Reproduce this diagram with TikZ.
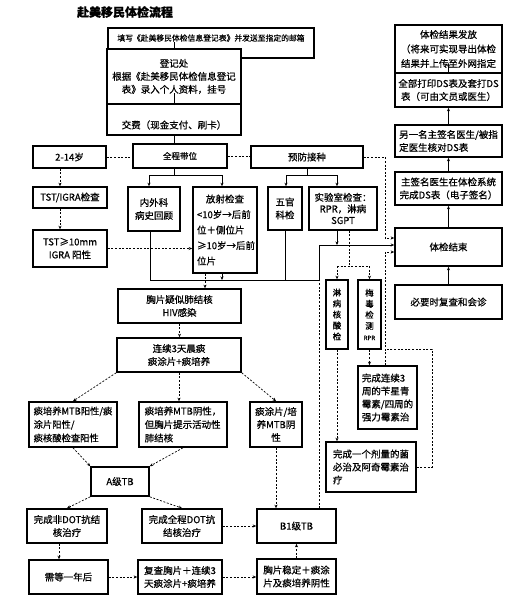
\documentclass[tikz,border=0pt]{standalone}
\usepackage{fontspec}
\setmainfont{Noto Sans CJK SC}[FakeBold=0.6]
\usetikzlibrary{arrows.meta}
\begin{document}
\begin{tikzpicture}[x=1pt,y=-1pt,
  bx/.style={draw,line width=1.6pt,fill=white,inner sep=1pt,align=center,font=\fontsize{9.5}{13}\selectfont},
  txt/.style={inner sep=0pt,align=center,font=\fontsize{9.5}{13}\selectfont},
  ln/.style={line width=0.6pt},
  dl/.style={line width=0.7pt,dash pattern=on 2pt off 1.6pt},
  ar/.style={-{Stealth[length=3.5pt,width=3pt]}}]
\useasboundingbox[fill=white] (0,0) rectangle (515,600);

\node[font=\bfseries\fontsize{12}{14}\selectfont,inner sep=0pt] (title) at (125,12) {赴美移民体检流程};

% top chain
\node[bx,minimum width=206pt,minimum height=30pt] (b1) at (211,43) {};
\node[txt,font=\fontsize{7.8}{10}\selectfont] (b1t) at (211,38) {填写《赴美移民体检信息登记表》并发送至指定的邮箱};
\node[bx,minimum width=134pt,minimum height=55pt] (b2) at (174,76.5) {登记处\\根据《赴美移民体检信息登记\\表》录入个人资料，挂号};
\node[bx,minimum width=134pt,minimum height=31pt] (b3) at (174,119.5) {};
\node[txt] (b3t) at (174,125) {交费（现金支付、刷卡）};
\coordinate (b2o) at (174,93);
\draw[ln] (b1t.south -| b2.north) -- (b2.north);
\draw[ln] (b2o) -- (b3.north);

\node[bx,minimum width=73pt,minimum height=22pt] (b5) at (69.5,157) {2-14岁};
\node[bx,minimum width=94pt,minimum height=24pt,font=\fontsize{8.5}{11}\selectfont] (b4) at (180,156) {全程带位};
\node[bx,minimum width=112pt,minimum height=22pt] (b6) at (307,157) {预防接种};

\node[bx,minimum width=74pt,minimum height=21pt] (b7) at (70,197.5) {TST/IGRA检查};
\node[bx,minimum width=74pt,minimum height=37pt] (b8) at (70,248.5) {TST≥10mm\\IGRA 阳性};
\node[bx,minimum width=52pt,minimum height=44pt] (b9) at (154,209) {内外科\\病史回顾};
\node[bx,minimum width=64pt,minimum height=86pt,align=left,text width=56pt,font=\fontsize{9.5}{15.5}\selectfont] (b10) at (225,230) {\makebox[56pt]{放射检查}\\<10岁→后前\\位＋侧位片\\≥10岁→后前\\位片};
\node[bx,minimum width=34pt,minimum height=43pt] (b11) at (285,208.5) {五官\\科检};
\node[bx,minimum width=68pt,minimum height=43pt,font=\fontsize{9.5}{11.5}\selectfont] (b12) at (343,208.5) {实验室检查：\\RPR，淋病\\SGPT};

% right column
\node[bx,minimum width=107pt,minimum height=48pt,font=\fontsize{9.5}{14.5}\selectfont] (r1) at (448.5,49) {体检结果发放\\（将来可实现导出体检\\结果并上传至外网指定};
\node[bx,minimum width=107pt,minimum height=34pt] (r2) at (448.5,90) {全部打印DS表及套打DS\\表（可由文员或医生）};
\node[bx,minimum width=107pt,minimum height=32pt,align=left] (r3) at (448.5,141) {另一名主签名医生/被指\\定医生核对DS表};
\node[bx,minimum width=107pt,minimum height=33pt] (r4) at (448.5,188.5) {主签名医生在体检系统\\完成DS表（电子签名）};
\node[bx,minimum width=107pt,minimum height=38pt] (r5) at (448.5,247) {体检结束};
\node[bx,minimum width=107pt,minimum height=34pt] (r6) at (448.5,302) {必要时复查和会诊};
\coordinate (r1i) at (448.5,63);
\draw[ln,ar] (r6.north) -- (r5.south);
\draw[ln,ar] (r5.north) -- (r4.south);
\draw[ln,ar] (r4.north) -- (r3.south);
\draw[ln,ar] (r3.north) -- (r2.south);
\draw[ln,ar] (r2.north) -- (r1i);

% middle column
\node[bx,minimum width=123pt,minimum height=34pt] (m1) at (179.5,306) {胸片疑似肺结核\\HIV感染};
\node[bx,minimum width=124pt,minimum height=34pt] (m2) at (179,355) {连续3天晨痰\\痰涂片+痰培养};
\node[bx,minimum width=88pt,minimum height=45pt,align=left,font=\fontsize{9.3}{13.5}\selectfont] (m3) at (73,424.5) {痰培养MTB阳性/痰\\涂片阳性/\\痰核酸检查阳性};
\node[bx,minimum width=88pt,minimum height=45pt,align=left,font=\fontsize{9.5}{13.5}\selectfont] (m4) at (183,424.5) {痰培养MTB阴性，\\但胸片提示活动性\\肺结核};
\node[bx,minimum width=52pt,minimum height=45pt] (m5) at (276,424.5) {痰涂片/培\\养MTB阴\\性};
\node[bx,minimum width=58pt,minimum height=29pt] (m6) at (120,481.5) {A级TB};
\node[bx,minimum width=80pt,minimum height=34pt] (m7) at (67,526) {完成非DOT抗结\\核治疗};
\node[bx,minimum width=80pt,minimum height=34pt] (m8) at (182,526) {完成全程DOT抗\\结核治疗};
\node[bx,minimum width=79pt,minimum height=34pt] (m9) at (296.5,526) {B1级TB};
\node[bx,minimum width=79pt,minimum height=34pt] (m10) at (68.5,577) {需等一年后};
\node[bx,minimum width=84pt,minimum height=34pt] (m11) at (180,577) {复查胸片＋连续3\\天痰涂片+痰培养};
\node[bx,minimum width=79pt,minimum height=35pt] (m12) at (296.5,576.5) {胸片稳定＋痰涂\\片及痰培养阴性};

% syphilis / gonorrhea
\node[bx,minimum width=22pt,minimum height=69pt,inner sep=0pt,font=\fontsize{8.5}{11}\selectfont] (s1) at (337,314.5) {淋\\病\\核\\酸\\检};
\node[bx,minimum width=23pt,minimum height=69pt,inner sep=0pt,font=\fontsize{8.5}{11}\selectfont] (s2) at (369.5,314.5) {梅\\毒\\检\\测\\{\fontsize{6}{8}\selectfont RPR}};
\node[bx,minimum width=59pt,minimum height=63pt,align=left] (s3) at (387.5,397.5) {完成连续3\\周的苄星青\\霉素/四周的\\强力霉素治};
\node[bx,minimum width=90pt,minimum height=50pt,align=left] (s4) at (371,467) {完成一个剂量的菌\\必治及阿奇霉素治\\疗};

% solid connectors, exam split
\coordinate (j1) at (174,175);
\coordinate (j1l) at (149,175);
\coordinate (j1r) at (222,175);
\draw[ln] (b3.south) -- (b3.south |- b4.north);
\draw[ln] (b4.south -| j1) -- (j1);
\draw[ln] (j1l) -- (j1r);
\draw[ln,ar] (j1l) -- (j1l |- b9.north);
\draw[ln,ar] (j1r) -- (j1r |- b10.north);
\coordinate (j2) at (307,175);
\coordinate (j2l) at (286,175);
\coordinate (j2r) at (337,175);
\draw[ln] (b6.south) -- (j2);
\draw[ln] (j2l) -- (j2r);
\draw[ln,ar] (j2l) -- (j2l |- b11.north);
\draw[ln,ar] (j2r) -- (j2r |- b12.north);

% bus to 体检结束
\coordinate (k1) at (150,280);
\coordinate (k2) at (319,280);
\coordinate (k3) at (319,245);
\coordinate (k4) at (222,280);
\coordinate (k5) at (285,280);
\coordinate (k6) at (337,245);
\draw[ln] (b9.south -| k1) -- (k1) -- (k2) -- (k3);
\draw[ln,ar] (k3) -- (k3 -| r5.west);
\draw[ln,ar] (b10.south -| k4) -- (k4);
\draw[ln] (b11.south) -- (k5);
\draw[ln,ar] (b12.south -| k6) -- (k6);

% dashed connectors
\coordinate (v1) at (60,0);
\draw[dl] (b5.east) -- (b5.east -| b4.west);
\draw[dl] (b4.east) -- (b4.east -| b6.west);
\draw[dl,ar] (b5.south -| v1) -- (b7.north -| v1);
\draw[dl,ar] (b7.south -| v1) -- (b8.north -| v1);
\draw[dl,ar] (b8.east) -- (b8.east -| b10.west);
\coordinate (p1) at (385,157);
\coordinate (p2) at (385,238);
\draw[dl,ar] (b6.east) -- (p1) -- (p2) -- (p2 -| r5.west);

\coordinate (v2) at (205,0);
\draw[dl,ar] (b10.south -| v2) -- (m1.north -| v2);
\draw[dl,ar] (m1.south) -- (m1.south |- m2.north);
\draw[dl,ar] (m2.south west) -- (m3.north);
\draw[dl,ar] (m2.south) -- (m2.south |- m4.north);
\draw[dl,ar] (m2.south east) -- (m5.north);
\draw[dl,ar] (m3.south) -- (m6.north west);
\draw[dl,ar] (m4.south) -- (m6.north east);
\draw[dl,ar] (m6.south west) -- (m7.north);
\draw[dl,ar] (m6.south east) -- (m8.north);
\draw[dl,ar] (m5.south) -- (m5.south |- m9.north);
\draw[dl,ar] (m8.east) -- (m8.east -| m9.west);
\coordinate (v3) at (59,0);
\draw[dl,ar] (m7.south -| v3) -- (m10.north -| v3);
\draw[dl,ar] (m10.east) -- (m10.east -| m11.west);
\draw[dl,ar] (m11.east) -- (m11.east -| m12.west);
\draw[dl,ar] (m12.north) -- (m12.north |- m9.south);
\draw[dl] (m9.north -| k2) -- (k2);

\coordinate (q1) at (349,266);
\coordinate (q1l) at (337,266);
\coordinate (q1r) at (369.5,266);
\draw[dl] (b12.south -| q1) -- (q1);
\draw[dl] (q1l) -- (q1r);
\draw[dl,ar] (q1l) -- (s1.north);
\draw[dl,ar] (q1r) -- (s2.north);
\draw[dl,ar] (s2.south) -- (s2.south |- s3.north);
\draw[dl,ar] (s1.south) -- (s1.south |- s4.north);
\coordinate (p3) at (385,252);
\coordinate (p4) at (385,349);
\coordinate (p5) at (432,349);
\draw[dl,ar] (s3.north -| p3) -- (p3) -- (p3 -| r5.west);
\draw[dl] (s4.east) -- (s4.east -| p5) -- (p5) -- (p4);
\end{tikzpicture}
\end{document}
